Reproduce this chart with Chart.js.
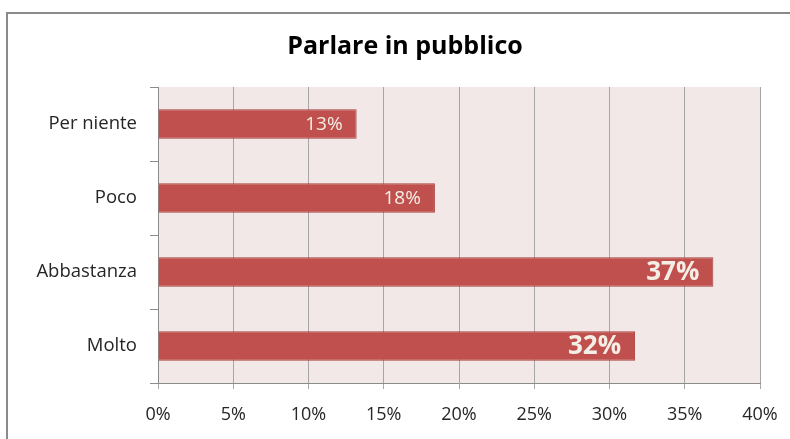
<!DOCTYPE html>
<html>
<head>
<meta charset="utf-8">
<script src="https://cdn.jsdelivr.net/npm/chart.js@4.4.0/dist/chart.umd.min.js"></script>
<style>
  html, body { margin: 0; padding: 0; background: #fff; }
  #wrap { width: 790px; height: 439px; position: relative; }
</style>
</head>
<body>
<div id="wrap"><canvas id="chart"></canvas></div>
<script>
// data
const categories = ['Per niente', 'Poco', 'Abbastanza', 'Molto'];
const values = [13.2, 18.4, 36.9, 31.7];
const valueLabels = ['13%', '18%', '37%', '32%'];
const xTickLabels = ['0%', '5%', '10%', '15%', '20%', '25%', '30%', '35%', '40%'];

const FONT = "'Open Sans', 'DejaVu Sans', sans-serif";

// the last two labels are big & bold in the original
const labelStyle = [
  { size: 19, weight: 'normal' },
  { size: 19, weight: 'normal' },
  { size: 26, weight: 'bold' },
  { size: 26, weight: 'bold' }
];

const decor = {
  id: 'decor',
  beforeDraw(chart) {
    const { ctx, chartArea: a } = chart;
    ctx.save();
    ctx.fillStyle = '#fff';
    ctx.fillRect(0, 0, chart.width, chart.height);
    // outer frame (runs off the right / bottom edge)
    ctx.strokeStyle = '#8a8a8a';
    ctx.lineWidth = 2;
    ctx.beginPath();
    ctx.moveTo(7, chart.height + 5);
    ctx.lineTo(7, 13);
    ctx.lineTo(chart.width + 5, 13);
    ctx.stroke();
    // plot background
    ctx.fillStyle = '#f2e8e8';
    ctx.fillRect(a.left, a.top, a.right - a.left, a.bottom - a.top);
    // title
    ctx.fillStyle = '#000';
    ctx.font = 'bold 25px ' + FONT;
    ctx.textAlign = 'center';
    ctx.textBaseline = 'middle';
    ctx.fillText('Parlare in pubblico', 405, 47);
    ctx.restore();
  },
  afterDatasetsDraw(chart) {
    const { ctx } = chart;
    const meta = chart.getDatasetMeta(0);
    ctx.save();
    ctx.fillStyle = '#f4efe6';
    ctx.textAlign = 'right';
    ctx.textBaseline = 'middle';
    meta.data.forEach((bar, i) => {
      const st = labelStyle[i];
      ctx.font = st.weight + ' ' + st.size + 'px ' + FONT;
      ctx.fillText(valueLabels[i], bar.x - 14, bar.y + 1);
    });
    ctx.restore();
  }
};

new Chart(document.getElementById('chart'), {
  type: 'bar',
  data: {
    labels: categories,
    datasets: [{
      data: values,
      backgroundColor: '#c0504d',
      borderColor: '#a8423f',
      borderWidth: 1,
      borderSkipped: 'left',
      categoryPercentage: 1,
      barPercentage: 0.4
    }]
  },
  options: {
    indexAxis: 'y',
    responsive: true,
    maintainAspectRatio: false,
    animation: false,
    layout: { padding: { top: 87, right: 30, bottom: 0, left: 0 } },
    plugins: {
      legend: { display: false },
      title: { display: false },
      tooltip: { enabled: false }
    },
    scales: {
      x: {
        min: 0,
        max: 40,
        ticks: {
          stepSize: 5,
          callback: (v, i) => xTickLabels[i],
          color: '#262626',
          font: { family: FONT, size: 18 },
          padding: 15
        },
        grid: { color: '#a6a6a6', tickLength: 6 },
        border: { color: '#8c8c8c' },
        afterFit: s => {
          s.height = 56;
          s.paddingLeft = 0;
          s.paddingRight = 0;
        }
      },
      y: {
        ticks: {
          color: '#262626',
          font: { family: FONT, size: 18.5 },
          padding: 13
        },
        grid: { drawOnChartArea: false, color: '#8c8c8c', tickLength: 8 },
        border: { color: '#8c8c8c' },
        afterFit: s => { s.width = 158; }
      }
    }
  },
  plugins: [decor]
});
</script>
</body>
</html>
